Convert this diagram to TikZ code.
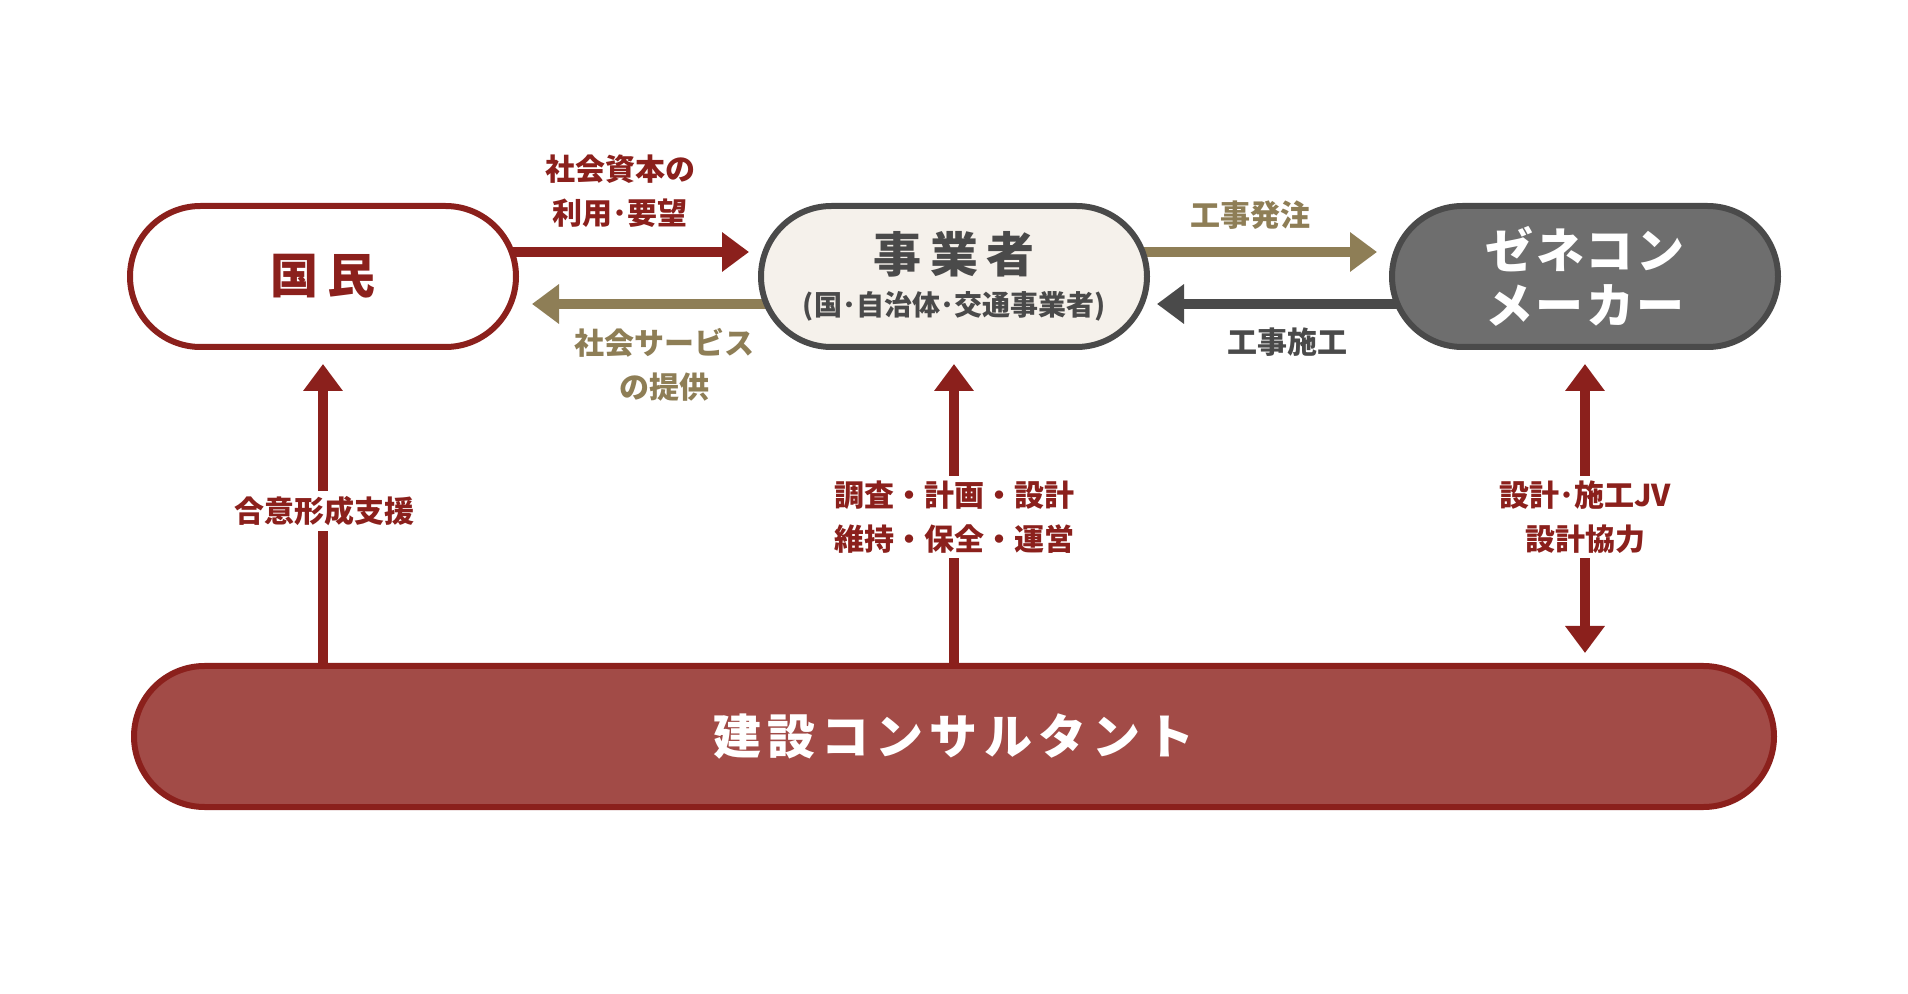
\documentclass[tikz,border=0pt]{standalone}
\usepackage{fontspec}
\setmainfont{Noto Sans CJK JP}
\usepackage{xcolor}
\usetikzlibrary{arrows.meta,backgrounds}
\definecolor{kcred}{RGB}{139,32,28}
\definecolor{kctan}{RGB}{142,126,86}
\definecolor{kcdark}{RGB}{74,74,74}
\definecolor{kccream}{RGB}{245,241,235}
\definecolor{kcgray}{RGB}{110,110,110}
\definecolor{kcbrick}{RGB}{162,75,71}

\begin{document}
\begin{tikzpicture}[x=0.5pt, y=-0.5pt,
  every node/.style={font=\bfseries},
  pill/.style={draw=#1, line width=3pt, rounded corners=35.25pt, minimum width=193pt,
               minimum height=70.5pt, inner sep=0pt, align=center},
  arrow/.style={-{Triangle[length=13.5pt,width=19pt]}, line width=5.25pt, #1},
  dblarrow/.style={{Triangle[length=13.5pt,width=19pt]}-{Triangle[length=13.5pt,width=19pt]}, line width=5.25pt, #1},
  lbl/.style={font=\bfseries\fontsize{15}{22}\selectfont, align=center, text=#1,
              fill=white, inner sep=2.5pt}
]
\useasboundingbox (0,0) rectangle (1908,994);

% main boxes
\node[pill=kcred, fill=white, text=kcred,
      font=\bfseries\fontsize{24}{24}\selectfont\addfontfeature{LetterSpace=18}] (kokumin) at (323,276.5) {国民};
\node[pill=kcdark, fill=kccream, text=kcdark, font=\bfseries\fontsize{14}{21.7}\selectfont] (jigyo) at (954,276.5)
      {{\fontsize{24}{21.7}\selectfont\addfontfeature{LetterSpace=18}事業者}\\(国･自治体･交通事業者)};
\node[pill=kcdark, fill=kcgray, text=white,
      font=\bfseries\fontsize{24}{27.5}\selectfont\addfontfeature{LetterSpace=5}] (zenecon) at (1585,276.5) {ゼネコン\\メーカー};
\node[pill=kcred, fill=kcbrick, text=white, minimum width=820pt,
      font=\bfseries\fontsize{24}{24}\selectfont\addfontfeature{LetterSpace=13}] (consul) at (954,736.5) {建設コンサルタント};

% connectors
\begin{scope}[on background layer]
\draw[arrow=kcred]  ([xshift=-10pt,yshift=12.25pt]kokumin.east) -- ([xshift=-4.5pt,yshift=12.25pt]jigyo.west);
\draw[arrow=kctan]  ([xshift=10pt,yshift=-13.75pt]jigyo.west) -- ([xshift=6.5pt,yshift=-13.75pt]kokumin.east);
\draw[arrow=kctan]  ([xshift=-10pt,yshift=12.25pt]jigyo.east) -- ([xshift=-6pt,yshift=12.25pt]zenecon.west);
\draw[arrow=kcdark] ([xshift=10pt,yshift=-13.75pt]zenecon.west) -- ([xshift=3.5pt,yshift=-13.75pt]jigyo.east);
\draw[arrow=kcred]  ([yshift=-6pt]kokumin.south |- consul.north) -- ([yshift=-7pt]kokumin.south);
\draw[arrow=kcred]  ([yshift=-6pt]jigyo.south |- consul.north) -- ([yshift=-7pt]jigyo.south);
\draw[dblarrow=kcred] ([yshift=-7pt]zenecon.south) -- ([yshift=5pt]zenecon.south |- consul.north);
\end{scope}

% labels
\node[lbl=kcred, fill=none]  (youbou)  at (620,191)   {社会資本の\\利用･要望};
\node[lbl=kctan, fill=none]  (service) at (664,364.5) {社会サービス\\の提供};
\node[lbl=kctan, fill=none]  (hatchu)  at (1250,215)  {工事発注};
\node[lbl=kcdark, fill=none] (seko)    at (1287,342)  {工事施工};
\node[lbl=kcred] (goui)    at (324,511)  {合意形成支援};
\node[lbl=kcred] (chousa)  at (954,517)  {調査・計画・設計\\維持・保全・運営};
\node[lbl=kcred] (sekkei)  at (1585,517) {設計･施工JV\\設計協力};
\end{tikzpicture}
\end{document}
